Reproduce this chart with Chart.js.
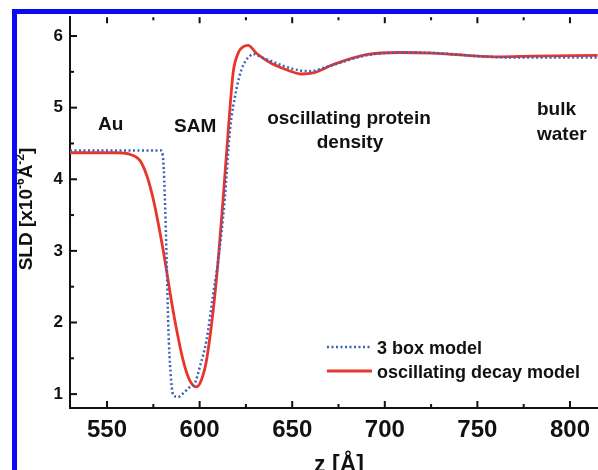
<!DOCTYPE html>
<html>
<head>
<meta charset="utf-8">
<script src="https://cdn.jsdelivr.net/npm/chart.js@4.4.0/dist/chart.umd.min.js"></script>
<style>
  body { margin: 0; background: #fff; }
  canvas { display: block; }
</style>
</head>
<body>
<canvas id="myChart" width="598" height="470"></canvas>
<script>
// 3 box model (blue dotted)
var zBox = [530, 560, 579, 580.4, 581.4, 582.2, 583.1, 584.3, 585.7, 588.4, 591.5, 594.7, 597.4, 600.1, 603.7, 607.3, 610, 613.6, 616.3, 619.9, 622.6, 625, 627.1, 629, 632, 639.6, 650.4, 659.4, 670, 690, 710, 730, 750, 770, 800, 815];
var sldBox = [4.40, 4.40, 4.40, 4.25, 3.6, 2.86, 1.93, 1.3, 0.99, 0.96, 1.02, 1.10, 1.15, 1.38, 1.75, 2.39, 2.86, 3.73, 4.66, 5.26, 5.53, 5.66, 5.72, 5.75, 5.72, 5.64, 5.54, 5.51, 5.58, 5.73, 5.77, 5.76, 5.72, 5.70, 5.70, 5.70];

// oscillating decay model (red)
var zDecay = [530, 555, 562, 567.8, 571.5, 574.9, 578.5, 581.3, 585.7, 591.1, 594.5, 598.3, 601, 603.7, 607.3, 610, 612.7, 615.4, 618.1, 620.8, 623.5, 626.2, 630.7, 637.9, 646.9, 655, 662, 672, 690, 708, 726, 744, 762, 780, 815];
var sldDecay = [4.37, 4.37, 4.35, 4.26, 4.05, 3.73, 3.27, 2.86, 2.16, 1.47, 1.20, 1.10, 1.20, 1.47, 2.16, 2.86, 3.73, 4.66, 5.49, 5.76, 5.85, 5.87, 5.76, 5.63, 5.53, 5.47, 5.49, 5.60, 5.74, 5.77, 5.76, 5.73, 5.71, 5.72, 5.73];

var xTicks = [550, 600, 650, 700, 750, 800];
var yTicks = [1, 2, 3, 4, 5, 6];

var seriesNames = ['3 box model', 'oscillating decay model'];
var regionLabels = [['Au'], ['SAM'], ['oscillating protein', 'density'], ['bulk', 'water']];

var blue = '#3d62b5';
var red = '#e8352d';
var ink = '#111';

function pts(xs, ys) {
    return xs.map(function (x, i) { return { x: x, y: ys[i] }; });
}

var extras = {
    id: 'extras',
    afterDraw: function (chart) {
        var ctx = chart.ctx;
        var xs = chart.scales.x, ys = chart.scales.y;
        var a = chart.chartArea;
        ctx.save();
        ctx.strokeStyle = ink;
        ctx.lineWidth = 2;
        // inward ticks
        for (var z = 550; z <= 800; z += 25) {
            var px = xs.getPixelForValue(z);
            var len = (z % 50 === 0) ? 7 : 4;
            ctx.beginPath();
            ctx.moveTo(px, a.bottom); ctx.lineTo(px, a.bottom - len);
            ctx.moveTo(px, a.top); ctx.lineTo(px, a.top + len - 1);
            ctx.stroke();
        }
        for (var v = 1; v <= 6; v += 0.5) {
            var py = ys.getPixelForValue(v);
            var l2 = (v % 1 === 0) ? 7 : 4;
            ctx.beginPath();
            ctx.moveTo(a.left, py); ctx.lineTo(a.left + l2, py);
            ctx.stroke();
        }

        ctx.fillStyle = ink;
        ctx.textBaseline = 'alphabetic';
        // region labels
        ctx.font = 'bold 19px "Liberation Sans", Arial, sans-serif';
        ctx.textAlign = 'left';
        ctx.fillText(regionLabels[0][0], 98, 130);
        ctx.fillText(regionLabels[1][0], 174, 132);
        ctx.textAlign = 'center';
        ctx.fillText(regionLabels[2][0], 349, 124);
        ctx.fillText(regionLabels[2][1], 350, 148);
        ctx.textAlign = 'left';
        ctx.fillText(regionLabels[3][0], 537, 115);
        ctx.fillText(regionLabels[3][1], 537, 140);

        // legend
        ctx.font = 'bold 18px "Liberation Sans", Arial, sans-serif';
        ctx.lineWidth = 2.5;
        ctx.strokeStyle = blue;
        ctx.setLineDash([2, 2.5]);
        ctx.beginPath(); ctx.moveTo(327, 347); ctx.lineTo(371, 347); ctx.stroke();
        ctx.setLineDash([]);
        ctx.lineWidth = 3;
        ctx.strokeStyle = red;
        ctx.beginPath(); ctx.moveTo(327, 371); ctx.lineTo(372, 371); ctx.stroke();
        ctx.fillText(seriesNames[0], 377, 354);
        ctx.fillText(seriesNames[1], 377, 378);

        // x title
        ctx.font = 'bold 23px "Liberation Sans", Arial, sans-serif';
        ctx.textAlign = 'center';
        ctx.fillText('z [Å]', 339, 472);

        // y title, rotated, with superscripts
        ctx.translate(32, 209);
        ctx.rotate(-Math.PI / 2);
        var big = 'bold 19px "Liberation Sans", Arial, sans-serif';
        var small = 'bold 12px "Liberation Sans", Arial, sans-serif';
        var parts = [['SLD [x10', big, 0], ['-6', small, -8], ['Å', big, 0], ['-2', small, -8], [']', big, 0]];
        var total = 0;
        parts.forEach(function (p) { ctx.font = p[1]; total += ctx.measureText(p[0]).width; });
        var cx = -total / 2;
        ctx.textAlign = 'left';
        parts.forEach(function (p) {
            ctx.font = p[1];
            ctx.fillText(p[0], cx, p[2]);
            cx += ctx.measureText(p[0]).width;
        });
        ctx.restore();

        // blue frame
        ctx.save();
        ctx.fillStyle = '#0a0af5';
        ctx.fillRect(12, 9, 5, 470);
        ctx.fillRect(12, 9, 600, 5);
        ctx.restore();
    }
};

var ctx = document.getElementById('myChart').getContext('2d');
var myChart = new Chart(ctx, {
    type: 'line',
    data: {
        datasets: [{
            label: seriesNames[0],
            data: pts(zBox, sldBox),
            borderColor: blue,
            borderWidth: 2.5,
            borderDash: [2, 2.5],
            pointRadius: 0,
            cubicInterpolationMode: 'monotone',
            fill: false
        }, {
            label: seriesNames[1],
            data: pts(zDecay, sldDecay),
            borderColor: red,
            borderWidth: 2.8,
            pointRadius: 0,
            cubicInterpolationMode: 'monotone',
            fill: false
        }]
    },
    plugins: [extras],
    options: {
        responsive: false,
        animation: false,
        devicePixelRatio: 1,
        layout: { padding: { top: 14, right: 0, left: 0, bottom: 0 } },
        plugins: {
            legend: { display: false },
            tooltip: { enabled: false }
        },
        scales: {
            x: {
                type: 'linear',
                min: 530,
                max: 815,
                afterBuildTicks: function (s) { s.ticks = xTicks.map(function (v) { return { value: v }; }); },
                afterFit: function (s) { s.height = 62; },
                grid: { drawOnChartArea: false, drawTicks: false },
                border: { display: true, color: ink, width: 2 },
                ticks: {
                    padding: 8,
                    color: ink,
                    maxRotation: 0,
                    font: { family: '"Liberation Sans", Arial, sans-serif', size: 24, weight: 'bold' }
                }
            },
            y: {
                type: 'linear',
                min: 0.806,
                max: 6.263,
                afterBuildTicks: function (s) { s.ticks = yTicks.map(function (v) { return { value: v }; }); },
                afterFit: function (s) { s.width = 70; },
                grid: { drawOnChartArea: false, drawTicks: false },
                border: { display: true, color: ink, width: 2 },
                ticks: {
                    padding: 7,
                    color: ink,
                    font: { family: '"Liberation Sans", Arial, sans-serif', size: 17, weight: 'bold' }
                }
            }
        }
    }
});
</script>
</body>
</html>
